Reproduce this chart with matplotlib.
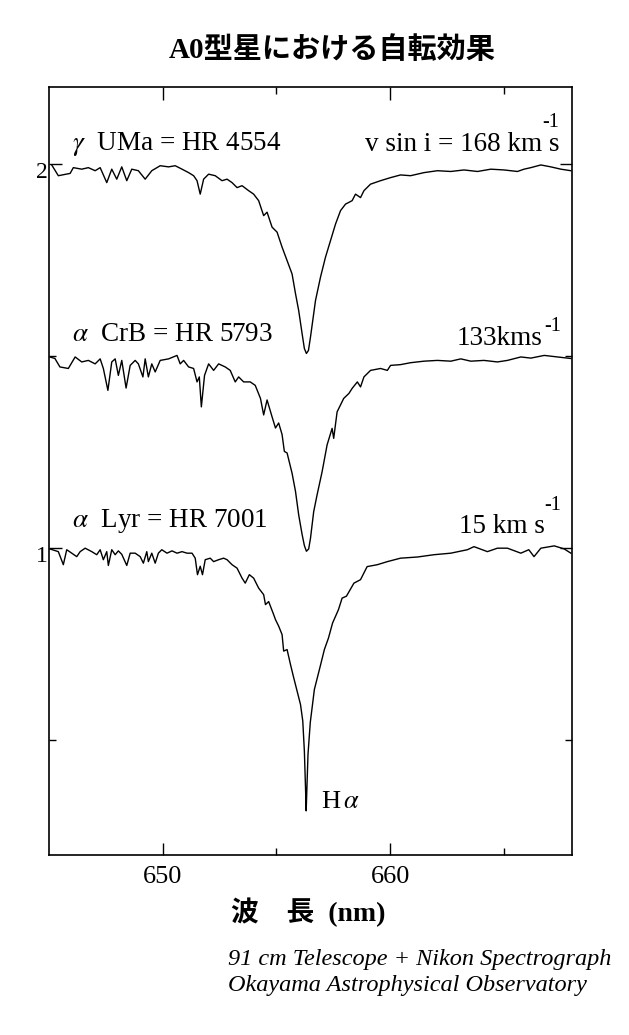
import matplotlib
matplotlib.use("Agg")
import matplotlib.pyplot as plt
from matplotlib.ticker import FixedLocator, NullFormatter
from matplotlib.transforms import ScaledTranslation, blended_transform_factory

plt.rcParams['font.family'] = ['Liberation Serif', 'Noto Sans CJK JP']
plt.rcParams['mathtext.fontset'] = 'stix'

# --- data: wavelength (nm) / normalised flux ---
wl_uma = [645.12, 645.41, 645.93, 646.07, 646.44, 646.73, 647.03, 647.25, 647.54, 647.76,
          647.98, 648.20, 648.42, 648.64, 648.93, 649.23, 649.52, 649.89, 650.26, 650.55,
          650.85, 651.14, 651.36, 651.51, 651.65, 651.80, 652.02, 652.31, 652.61, 652.83,
          653.05, 653.27, 653.49, 653.78, 654.00, 654.22, 654.44, 654.59, 654.81, 655.03,
          655.25, 655.47, 655.69, 655.84, 655.98, 656.13, 656.23, 656.32, 656.41, 656.50,
          656.72, 656.94, 657.16, 657.38, 657.60, 657.82, 658.04, 658.33, 658.48, 658.70,
          658.85, 659.14, 659.58, 660.02, 660.46, 660.90, 661.49, 662.08, 662.67, 663.25,
          663.84, 664.43, 665.01, 665.60, 665.89, 666.19, 666.63, 667.07, 667.51, 667.95]
fx_uma = [0.997, 0.969, 0.975, 0.990, 0.986, 0.990, 0.982, 0.990, 0.951, 0.986,
          0.960, 0.992, 0.956, 0.986, 0.982, 0.960, 0.982, 0.995, 0.992, 0.995,
          0.986, 0.977, 0.969, 0.956, 0.921, 0.960, 0.973, 0.969, 0.956, 0.960,
          0.951, 0.938, 0.943, 0.930, 0.921, 0.904, 0.865, 0.874, 0.835, 0.822,
          0.783, 0.748, 0.713, 0.662, 0.618, 0.558, 0.519, 0.506, 0.514, 0.549,
          0.644, 0.705, 0.757, 0.800, 0.843, 0.878, 0.895, 0.904, 0.921, 0.912,
          0.930, 0.947, 0.956, 0.964, 0.971, 0.969, 0.977, 0.982, 0.980, 0.984,
          0.980, 0.986, 0.984, 0.980, 0.986, 0.990, 0.997, 0.992, 0.986, 0.982]

wl_crb = [645.04, 645.26, 645.48, 645.85, 646.15, 646.44, 646.73, 647.03, 647.25, 647.39,
          647.59, 647.76, 647.91, 648.05, 648.20, 648.39, 648.57, 648.79, 648.93, 649.13,
          649.23, 649.37, 649.52, 649.67, 649.89, 650.26, 650.63, 650.77, 650.92, 651.14,
          651.36, 651.51, 651.61, 651.70, 651.84, 652.02, 652.24, 652.46, 652.75, 652.97,
          653.19, 653.34, 653.56, 653.85, 654.07, 654.30, 654.44, 654.59, 654.81, 654.96,
          655.10, 655.25, 655.35, 655.47, 655.69, 655.84, 655.98, 656.13, 656.23, 656.32,
          656.42, 656.50, 656.64, 656.79, 657.01, 657.23, 657.45, 657.52, 657.67, 657.96,
          658.19, 658.33, 658.56, 658.70, 658.85, 659.14, 659.58, 659.88, 660.02, 660.46,
          660.90, 661.49, 662.08, 662.67, 663.11, 663.55, 664.13, 664.72, 665.16, 665.75,
          666.19, 666.78, 667.36, 667.95]
fx_crb = [0.997, 0.993, 0.971, 0.967, 0.997, 0.984, 0.988, 0.979, 0.992, 0.967,
          0.910, 0.984, 0.992, 0.949, 0.988, 0.916, 0.975, 0.988, 0.979, 0.945,
          0.992, 0.945, 0.979, 0.958, 0.988, 0.992, 1.001, 0.979, 0.988, 0.971,
          0.967, 0.932, 0.945, 0.867, 0.949, 0.979, 0.962, 0.979, 0.971, 0.962,
          0.932, 0.945, 0.932, 0.932, 0.923, 0.889, 0.846, 0.885, 0.841, 0.812,
          0.825, 0.795, 0.751, 0.747, 0.694, 0.647, 0.586, 0.535, 0.506, 0.491,
          0.497, 0.525, 0.594, 0.638, 0.698, 0.768, 0.811, 0.785, 0.854, 0.889,
          0.902, 0.915, 0.932, 0.919, 0.945, 0.962, 0.967, 0.962, 0.975, 0.977,
          0.982, 0.986, 0.988, 0.986, 0.992, 0.986, 0.988, 0.984, 0.988, 0.997,
          0.994, 1.001, 0.997, 0.993]

wl_lyr = [645.04, 645.41, 645.63, 645.78, 646.00, 646.22, 646.37, 646.59, 646.88, 647.10,
          647.25, 647.39, 647.54, 647.61, 647.76, 647.91, 648.05, 648.20, 648.42, 648.57,
          648.79, 649.01, 649.15, 649.30, 649.37, 649.52, 649.67, 649.81, 649.96, 650.19,
          650.41, 650.63, 650.85, 651.07, 651.29, 651.43, 651.53, 651.65, 651.75, 651.87,
          652.09, 652.24, 652.46, 652.68, 652.83, 653.05, 653.27, 653.49, 653.63, 653.81,
          654.00, 654.22, 654.44, 654.52, 654.66, 654.88, 654.96, 655.10, 655.25, 655.32,
          655.47, 655.62, 655.76, 655.91, 656.06, 656.16, 656.23, 656.28, 656.31, 656.34,
          656.39, 656.49, 656.67, 656.93, 657.11, 657.29, 657.47, 657.73, 657.89, 658.08,
          658.41, 658.70, 658.99, 659.44, 659.88, 660.46, 661.20, 661.93, 662.67, 663.40,
          663.69, 664.28, 664.72, 665.16, 665.75, 666.10, 666.33, 666.63, 667.22, 667.66,
          667.95]
fx_lyr = [0.997, 0.990, 0.956, 0.995, 0.986, 0.977, 0.990, 0.999, 0.990, 0.982,
          0.995, 0.969, 0.990, 0.954, 0.995, 0.982, 0.992, 0.983, 0.954, 0.986,
          0.986, 0.977, 0.960, 0.990, 0.964, 0.986, 0.960, 0.986, 0.995, 0.986,
          0.992, 0.986, 0.990, 0.986, 0.986, 0.973, 0.930, 0.952, 0.930, 0.969,
          0.973, 0.964, 0.969, 0.973, 0.969, 0.956, 0.947, 0.921, 0.908, 0.930,
          0.921, 0.895, 0.878, 0.852, 0.860, 0.826, 0.813, 0.796, 0.774, 0.731,
          0.735, 0.696, 0.662, 0.627, 0.592, 0.549, 0.471, 0.376, 0.315, 0.371,
          0.462, 0.545, 0.631, 0.692, 0.735, 0.765, 0.804, 0.839, 0.869, 0.874,
          0.908, 0.917, 0.951, 0.956, 0.964, 0.973, 0.976, 0.982, 0.986, 0.995,
          1.003, 0.990, 0.999, 0.999, 0.986, 0.995, 0.977, 0.999, 1.005, 0.997,
          0.986]

offsets = [1.0, 0.5, 0.0]
star_names = [r"$\gamma$  UMa = HR 4554", r"$\alpha$  CrB = HR 5793", r"$\alpha$  Lyr = HR 7001"]
vsini_text = ["v sin i = 168 km s", "133kms", "15 km s"]

fig = plt.figure(figsize=(6.29, 10.35), dpi=100)
ax = fig.add_axes([49 / 629, 180 / 1035, 523 / 629, 768 / 1035])

for wl, fx, off in zip([wl_uma, wl_crb, wl_lyr], [fx_uma, fx_crb, fx_lyr], offsets):
    ax.plot(wl, [f + off for f in fx], color='black', lw=1.0)

ax.set_xlim(645, 668)
ax.set_ylim(0.2, 2.2)
ax.xaxis.set_major_locator(FixedLocator([650, 660]))
ax.xaxis.set_minor_locator(FixedLocator([655, 665]))
ax.yaxis.set_major_locator(FixedLocator([1, 2]))
ax.yaxis.set_minor_locator(FixedLocator([0.5, 1.5]))
ax.yaxis.set_minor_formatter(NullFormatter())
ax.tick_params(which='both', direction='in', top=True, right=True, width=1.0)
ax.tick_params(which='major', length=9)
ax.tick_params(which='minor', length=5)
ax.tick_params(axis='x', labelsize=19, pad=8)
ax.tick_params(axis='y', labelsize=17, pad=1)
for lab in ax.get_yticklabels():
    lab.set_transform(lab.get_transform() + ScaledTranslation(0, -0.06, fig.dpi_scale_trans))
for sp in ax.spines.values():
    sp.set_linewidth(1.2)

# labels on the spectra (x in axes fraction, y in data units)
bt = blended_transform_factory(ax.transAxes, ax.transData)
name_y = [2.052, 1.556, 1.070]
for name, y in zip(star_names, name_y):
    ax.text(0.044, y, name, transform=bt, fontsize=19.5, va='center', ha='left')

vs_x = [0.977, 0.943, 0.948]
vs_y = [2.050, 1.546, 1.055]
sup_x = [0.975, 0.946, 0.946]
sup_ha = ['right', 'left', 'left']
sup_y = [2.108, 1.576, 1.110]
for t, x, y, sx, sy, ha in zip(vsini_text, vs_x, vs_y, sup_x, sup_y, sup_ha):
    ax.text(x, y, t, transform=bt, fontsize=19.5, va='center', ha='right')
    ax.text(sx, sy, "-1", transform=bt, fontsize=14.5, va='center', ha=ha)

ax.text(656.94, 0.338, r"H$\,\alpha$", fontsize=19, va='center', ha='left')

fig.text(0.528, 1 - 50 / 1035, "A0型星における自転効果", fontsize=21, fontweight='bold',
         ha='center', va='center')
fig.text(0.49, 1 - 912 / 1035, "波　長  (nm)", fontsize=20, fontweight='bold',
         ha='center', va='center')
fig.text(0.3625, 1 - 960 / 1035, "91 cm Telescope + Nikon Spectrograph", fontsize=17.5,
         style='italic', ha='left', va='center')
fig.text(0.3625, 1 - 986 / 1035, "Okayama Astrophysical Observatory", fontsize=17.5,
         style='italic', ha='left', va='center')

fig.savefig("out.png", dpi=100)
